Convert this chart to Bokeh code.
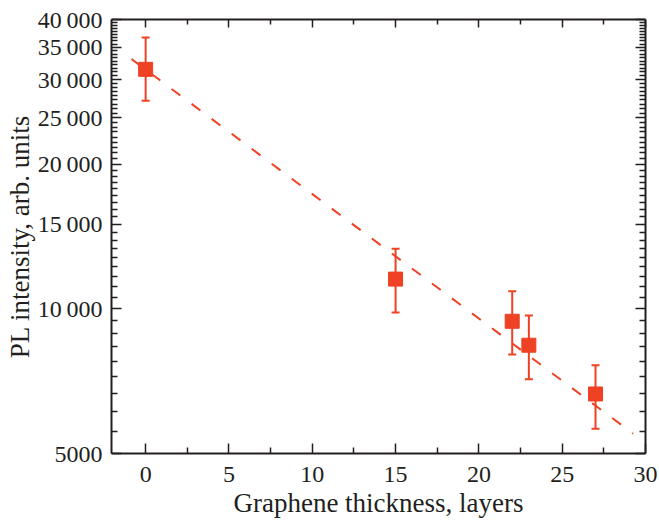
import numpy as np
from bokeh.plotting import figure
from bokeh.models import (Range1d, LogAxis, LinearAxis, FixedTicker, Whisker,
                          ColumnDataSource, TeeHead, CustomLabelingPolicy)
from bokeh.embed import file_html
from bokeh.resources import INLINE

# ---- data ----
layers = [0, 15, 22, 23, 27]
intensity = [31500, 11530, 9420, 8400, 6650]
err_upper = [36700, 13330, 10880, 9680, 7630]
err_lower = [27100, 9820, 8030, 7140, 5630]

fit_x = [-0.85, 29.25]
fit_y = [33100, 5500]

x_major = [0, 5, 10, 15, 20, 25, 30]
x_minor = [2.5, 7.5, 12.5, 17.5, 22.5, 27.5]
y_major = [5000, 10000, 15000, 20000, 25000, 30000, 35000, 40000]
y_labels = ["5000", "10\u2009000", "15\u2009000", "20\u2009000", "25\u2009000",
            "30\u2009000", "35\u2009000", "40\u2009000"]

x_title = "Graphene thickness, layers"
y_title = "PL intensity, arb. units"

# minor ticks: 8 per 5000 interval (Origin style)
y_minor = []
for a, b in zip(y_major[:-1], y_major[1:]):
    for k in range(1, 9):
        y_minor.append(a + (b - a) * k / 9.0)

RED = "#EF4123"
INK = "#231f20"
FONT = "Liberation Serif"

p = figure(width=659, height=520, x_range=Range1d(-2.05, 30),
           y_range=Range1d(5000, 40000), y_axis_type="log",
           output_backend="svg", toolbar_location=None,
           min_border_left=111, min_border_right=14,
           min_border_top=19, min_border_bottom=67)
p.xgrid.visible = False
p.ygrid.visible = False
p.outline_line_color = None
p.background_fill_color = "white"
p.border_fill_color = "white"

# fit line
p.line(fit_x, fit_y, line_color=RED, line_width=2, line_dash="11 14")

# error bars
src = ColumnDataSource(dict(x=layers, y=intensity, upper=err_upper, lower=err_lower))
wh = Whisker(source=src, base="x", upper="upper", lower="lower",
             line_color=RED, line_width=2,
             upper_head=TeeHead(size=8, line_color=RED, line_width=2),
             lower_head=TeeHead(size=8, line_color=RED, line_width=2))
p.add_layout(wh)

p.scatter("x", "y", source=src, marker="square", size=14,
          fill_color=RED, line_color=RED)

def style_axis(ax, major_in, minor_in, labels=True):
    ax.axis_line_color = INK
    ax.axis_line_width = 2
    ax.major_tick_line_color = INK
    ax.minor_tick_line_color = INK
    ax.major_tick_line_width = 1.5
    ax.minor_tick_line_width = 1.5
    ax.major_tick_in = major_in
    ax.major_tick_out = 0
    ax.minor_tick_in = minor_in
    ax.minor_tick_out = 0
    ax.major_label_text_font = FONT
    ax.major_label_text_font_size = "24px"
    ax.major_label_text_color = INK
    ax.axis_label_text_font = FONT
    ax.axis_label_text_font_size = "27px"
    ax.axis_label_text_font_style = "normal"
    ax.axis_label_text_color = INK
    if not labels:
        ax.major_label_text_font_size = "0px"
        ax.major_label_policy = CustomLabelingPolicy(code="return new Set()")
        ax.major_label_standoff = 0

xt = FixedTicker(ticks=x_major, minor_ticks=x_minor)
yt = FixedTicker(ticks=y_major, minor_ticks=y_minor)

xa = p.xaxis[0]
xa.ticker = xt
style_axis(xa, 10, 6)
xa.major_label_standoff = 13
xa.axis_label = x_title
xa.axis_label_standoff = 3

ya = p.yaxis[0]
ya.ticker = yt
style_axis(ya, 10, 6)
ya.major_label_standoff = 9
ya.major_label_overrides = {v: s for v, s in zip(y_major, y_labels)}
ya.axis_label = y_title
ya.axis_label_standoff = 0

top = LinearAxis(ticker=FixedTicker(ticks=x_major, minor_ticks=x_minor))
style_axis(top, 8, 5, labels=False)
p.add_layout(top, "above")

right = LogAxis(ticker=FixedTicker(ticks=y_major, minor_ticks=y_minor))
style_axis(right, 10, 6, labels=False)
p.add_layout(right, "right")

open("out.html", "w").write(file_html(p, INLINE))
